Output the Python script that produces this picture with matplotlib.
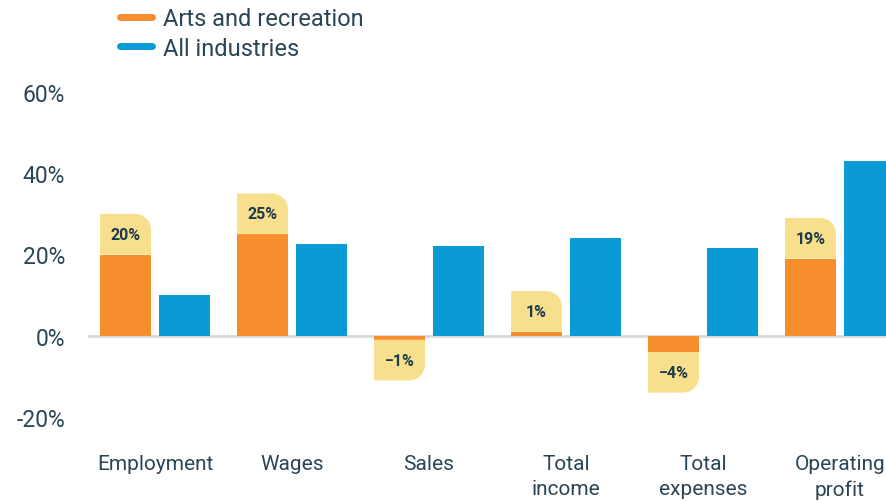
import numpy as np
import matplotlib.pyplot as plt
from matplotlib.path import Path
from matplotlib.patches import PathPatch
from matplotlib.lines import Line2D

categories = ["Employment", "Wages", "Sales", "Total\nincome", "Total\nexpenses", "Operating\nprofit"]
arts = [20, 25, -1, 1, -4, 19]
all_ind = [10, 22.5, 22, 24, 21.5, 43]
arts_labels = ["20%", "25%", "-1%", "1%", "-4%", "19%"]

ORANGE = "#F78E2E"
BLUE = "#0A9BD6"
TAG = "#F8DF8E"
TEXT = "#2B4554"

plt.rcParams['font.family'] = ['Roboto', 'DejaVu Sans']

fig = plt.figure(figsize=(8.87, 5.02), dpi=100)
ax = fig.add_axes([88 / 887, 84 / 502, 1 - 88 / 887, 325 / 502])

x = np.arange(len(categories))
w = 0.372
off = 0.215
ax.bar(x - off, arts, w, color=ORANGE, zorder=2)
ax.bar(x + off, all_ind, w, color=BLUE, zorder=2)
ax.axhline(0, color="#D9D9D9", lw=2, zorder=1)

ax.set_xlim(-0.489, 5.343)
ax.set_ylim(-20, 60)

# tag boxes sitting on the end of each orange bar, one rounded outer corner
bbox = ax.get_position()
px_x = (bbox.width * 887) / (ax.get_xlim()[1] - ax.get_xlim()[0])
px_y = (bbox.height * 502) / (ax.get_ylim()[1] - ax.get_ylim()[0])
r_px = 16
rx, ry = r_px / px_x, r_px / px_y
tag_h = 10


def tag_path(x0, x1, base, sign):
    far = base + sign * tag_h
    cy = far - sign * ry
    t = np.linspace(0, np.pi / 2, 20)
    arc = [(x1 - rx + rx * np.sin(a), cy + sign * ry * np.cos(a)) for a in t]
    verts = [(x0, base), (x0, far)] + arc + [(x1, base), (x0, base)]
    codes = [Path.MOVETO] + [Path.LINETO] * (len(verts) - 2) + [Path.CLOSEPOLY]
    return Path(verts, codes)


for xi, v, lab in zip(x, arts, arts_labels):
    sign = 1 if v >= 0 else -1
    x0, x1 = xi - off - w / 2, xi - off + w / 2
    ax.add_patch(PathPatch(tag_path(x0, x1, v, sign), facecolor=TAG,
                           edgecolor="none", zorder=3))
    ax.text(xi - off, v + sign * tag_h / 2, lab.replace("-", "\u2212"),
            ha="center", va="center", fontsize=11.5, fontweight="bold",
            color="#1B3A4B", zorder=4)

ax.set_yticks([-20, 0, 20, 40, 60])
ax.set_yticklabels(["-20%", "0%", "20%", "40%", "60%"])
ax.set_xticks(x)
ax.set_xticklabels(categories, linespacing=1.4)
ax.tick_params(axis="y", length=0, pad=16.5, labelsize=16.5, labelcolor=TEXT)
ax.tick_params(axis="x", length=0, pad=27, labelsize=15, labelcolor=TEXT)
for s in ax.spines.values():
    s.set_visible(False)

handles = [Line2D([], [], color=ORANGE, lw=5, solid_capstyle="round"),
           Line2D([], [], color=BLUE, lw=5, solid_capstyle="round")]
fig.legend(handles, ["Arts and recreation", "All industries"],
           loc="upper left", bbox_to_anchor=(120 / 887, 1 - 8 / 502), frameon=False,
           fontsize=17, handlelength=1.36, handletextpad=0.47,
           labelspacing=0.28, labelcolor=TEXT, borderaxespad=0.0, borderpad=0.0)

fig.savefig("out.png", dpi=100)
